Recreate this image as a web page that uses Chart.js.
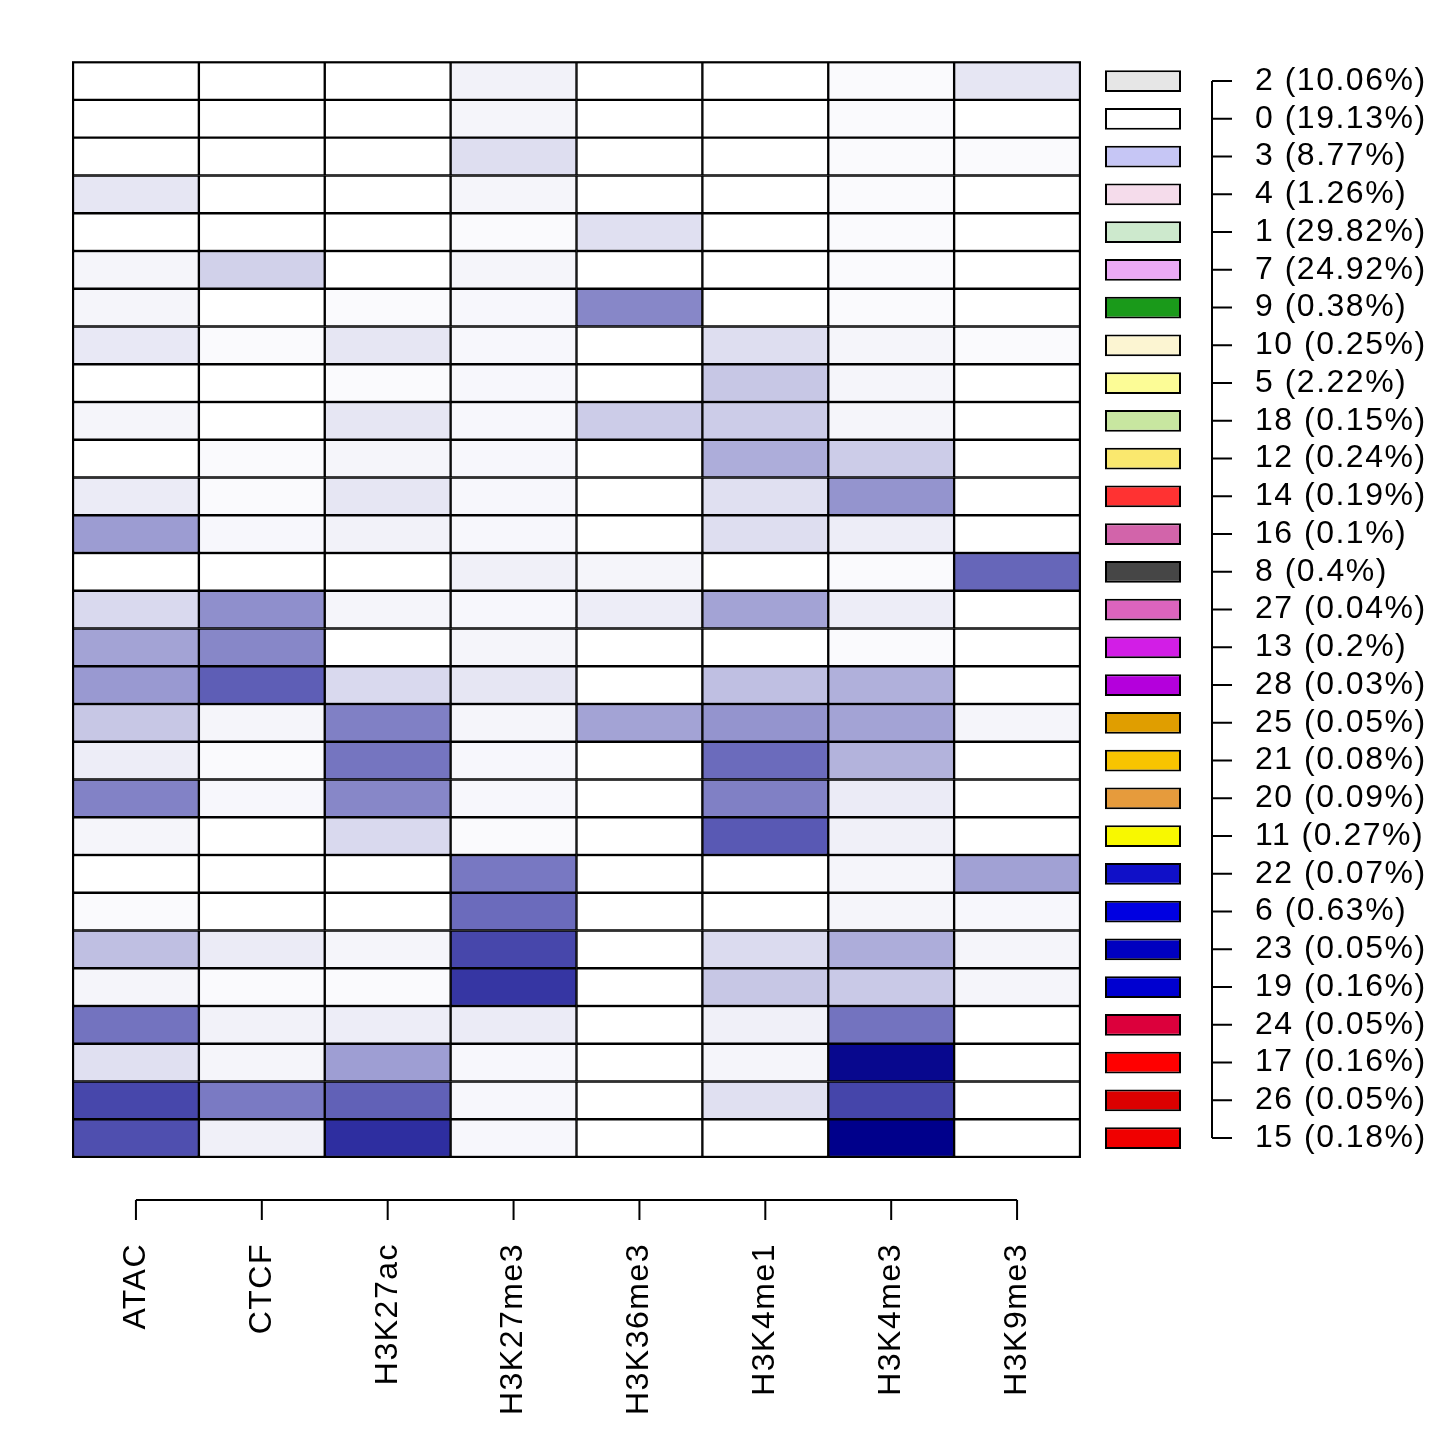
<!DOCTYPE html>
<html>
<head>
<meta charset="utf-8">
<script src="https://cdn.jsdelivr.net/npm/chart.js@4"></script>
<style>
  body { margin: 0; background: #ffffff; }
  canvas { display: block; }
</style>
</head>
<body>
<canvas id="emissions" width="1454" height="1444"></canvas>
<script>
// states (rows, top to bottom) and their genome coverage
var states = ["2", "0", "3", "4", "1", "7", "9", "10", "5", "18", "12", "14", "16", "8", "27",
              "13", "28", "25", "21", "20", "11", "22", "6", "23", "19", "24", "17", "26", "15"];
var coverage = ["10.06", "19.13", "8.77", "1.26", "29.82", "24.92", "0.38", "0.25", "2.22", "0.15",
                "0.24", "0.19", "0.1", "0.4", "0.04", "0.2", "0.03", "0.05", "0.08", "0.09",
                "0.27", "0.07", "0.63", "0.05", "0.16", "0.05", "0.16", "0.05", "0.18"];
var stateColors = ["#e6e6e6", "#ffffff", "#c6c6f5", "#f5dceb", "#cde9cd", "#ebaaf5", "#1a9a1a",
                   "#fcf5d2", "#fcfc96", "#c8e6a0", "#fae86e", "#ff3232", "#d264aa", "#464646",
                   "#dc64be", "#d21ee6", "#b400dc", "#e09e00", "#f8c400", "#e69b3c", "#f8f800",
                   "#1010c8", "#0000e1", "#0000c0", "#0000d0", "#dc003c", "#ff0000", "#dc0000",
                   "#f00000"];

// marks (columns)
var marks = ["ATAC", "CTCF", "H3K27ac", "H3K27me3", "H3K36me3", "H3K4me1", "H3K4me3", "H3K9me3"];

// emission probability per mark, one value per state row
var atac     = [0, 0, 0, 0.1, 0, 0.04, 0.04, 0.09, 0, 0.04, 0, 0.08, 0.39, 0, 0.15, 0.36, 0.4, 0.22, 0.07, 0.49, 0.04, 0, 0.02, 0.25, 0.04, 0.55, 0.12, 0.72, 0.69];
var ctcf     = [0, 0, 0, 0, 0, 0.18, 0, 0.02, 0, 0, 0.02, 0.02, 0.03, 0, 0.44, 0.47, 0.63, 0.04, 0.02, 0.03, 0, 0, 0, 0.08, 0.02, 0.05, 0.04, 0.52, 0.06];
var h3k27ac  = [0, 0, 0, 0, 0, 0, 0.02, 0.1, 0.02, 0.1, 0.04, 0.1, 0.05, 0, 0.04, 0, 0.15, 0.5, 0.54, 0.47, 0.15, 0, 0, 0.04, 0.02, 0.07, 0.38, 0.62, 0.82];
var h3k27me3 = [0.05, 0.04, 0.13, 0.04, 0.02, 0.04, 0.03, 0.03, 0.03, 0.03, 0.03, 0.03, 0.03, 0.06, 0.03, 0.04, 0.1, 0.04, 0.03, 0.03, 0.02, 0.53, 0.58, 0.72, 0.79, 0.08, 0.03, 0.03, 0.03];
var h3k36me3 = [0, 0, 0, 0, 0.12, 0, 0.47, 0, 0, 0.2, 0, 0, 0, 0.04, 0.07, 0, 0, 0.36, 0, 0, 0, 0, 0, 0, 0, 0, 0, 0, 0];
var h3k4me1  = [0, 0, 0, 0, 0, 0, 0, 0.13, 0.22, 0.2, 0.32, 0.12, 0.13, 0, 0.36, 0, 0.25, 0.42, 0.58, 0.5, 0.65, 0, 0, 0.14, 0.22, 0.06, 0.04, 0.12, 0];
var h3k4me3  = [0.02, 0.02, 0.02, 0.02, 0.02, 0.02, 0.02, 0.04, 0.04, 0.04, 0.2, 0.42, 0.07, 0.02, 0.07, 0.02, 0.31, 0.36, 0.3, 0.08, 0.06, 0.04, 0.04, 0.32, 0.21, 0.55, 0.97, 0.73, 1.0];
var h3k9me3  = [0.1, 0, 0.02, 0, 0, 0, 0, 0.02, 0, 0, 0, 0, 0, 0.6, 0, 0, 0, 0.04, 0, 0, 0, 0.37, 0.03, 0.04, 0.04, 0, 0, 0, 0];

var emissions = [atac, ctcf, h3k27ac, h3k27me3, h3k36me3, h3k4me1, h3k4me3, h3k9me3];

// white -> dark blue
function blueScale(v) {
    var r = Math.round(255 * (1 - v));
    var b = Math.round(255 - v * (255 - 139));
    return "rgb(" + r + "," + r + "," + b + ")";
}

var LEFT = 73, TOP = 62, AXIS_X = 1212, PLOT_BOTTOM = 1157;
var cellW = (1080 - LEFT) / marks.length;
var xMax = (AXIS_X - LEFT) / cellW;
var boxFrom = (1105 - LEFT) / cellW;
var boxTo = (1181 - LEFT) / cellW;

var labels = states.map(function(s, i) { return s + " (" + coverage[i] + "%)"; });

var datasets = emissions.map(function(col, c) {
    return {
        label: marks[c],
        data: col.map(function() { return [c, c + 1]; }),
        backgroundColor: col.map(blueScale),
        borderColor: "#000000",
        borderWidth: 1.5,
        borderSkipped: false,
        barPercentage: 1,
        categoryPercentage: 1
    };
});

datasets.push({
    label: "states",
    data: states.map(function() { return [boxFrom, boxTo]; }),
    backgroundColor: stateColors,
    borderColor: "#000000",
    borderWidth: 2,
    borderSkipped: false,
    barPercentage: 0.58,
    categoryPercentage: 1
});

// R-style axes: lines only between first and last tick
var rAxes = {
    id: "rAxes",
    beforeDraw: function(chart) {
        chart.ctx.letterSpacing = "1.5px";
    },
    afterDraw: function(chart) {
        var ctx = chart.ctx;
        var xs = chart.scales.x, ys = chart.scales.y;
        var area = chart.chartArea;
        ctx.save();
        ctx.strokeStyle = "#000000";
        ctx.lineWidth = 2;
        ctx.strokeRect(xs.getPixelForValue(0), area.top, xs.getPixelForValue(marks.length) - xs.getPixelForValue(0), area.bottom - area.top);

        // bottom axis
        var yb = area.bottom + 43;
        ctx.beginPath();
        ctx.moveTo(xs.getPixelForValue(0.5), yb);
        ctx.lineTo(xs.getPixelForValue(marks.length - 0.5), yb);
        for (var i = 0; i < marks.length; i++) {
            var px = xs.getPixelForValue(i + 0.5);
            ctx.moveTo(px, yb);
            ctx.lineTo(px, yb + 20);
        }
        ctx.stroke();

        // right axis
        var xr = area.right;
        ctx.beginPath();
        ctx.moveTo(xr, ys.getPixelForValue(0));
        ctx.lineTo(xr, ys.getPixelForValue(states.length - 1));
        for (var j = 0; j < states.length; j++) {
            var py = ys.getPixelForValue(j);
            ctx.moveTo(xr, py);
            ctx.lineTo(xr + 20, py);
        }
        ctx.stroke();
        ctx.restore();
    }
};

Chart.defaults.font.family = "'Liberation Sans', Arial, sans-serif";
Chart.defaults.color = "#000000";

new Chart(document.getElementById("emissions"), {
    type: "bar",
    data: { labels: labels, datasets: datasets },
    options: {
        indexAxis: "y",
        responsive: false,
        devicePixelRatio: 1,
        animation: false,
        layout: { padding: { left: LEFT, top: TOP, right: 0, bottom: 0 } },
        datasets: { bar: { grouped: false } },
        scales: {
            x: {
                type: "linear",
                min: 0,
                max: xMax,
                grid: { display: false, drawTicks: false },
                border: { display: false },
                afterBuildTicks: function(scale) {
                    scale.ticks = marks.map(function(m, i) { return { value: i + 0.5 }; });
                },
                afterFit: function(scale) { scale.height = 1444 - PLOT_BOTTOM; },
                ticks: {
                    autoSkip: false,
                    minRotation: 90,
                    maxRotation: 90,
                    padding: 86,
                    font: { size: 32 },
                    callback: function(value) { return marks[Math.floor(value)]; }
                }
            },
            y: {
                type: "category",
                position: "right",
                grid: { display: false, drawTicks: false },
                border: { display: false },
                afterFit: function(scale) { scale.width = 1454 - AXIS_X; },
                ticks: {
                    autoSkip: false,
                    padding: 43,
                    font: { size: 32 }
                }
            }
        },
        plugins: {
            legend: { display: false },
            tooltip: { enabled: false },
            title: { display: false }
        }
    },
    plugins: [rAxes]
});
</script>
</body>
</html>
